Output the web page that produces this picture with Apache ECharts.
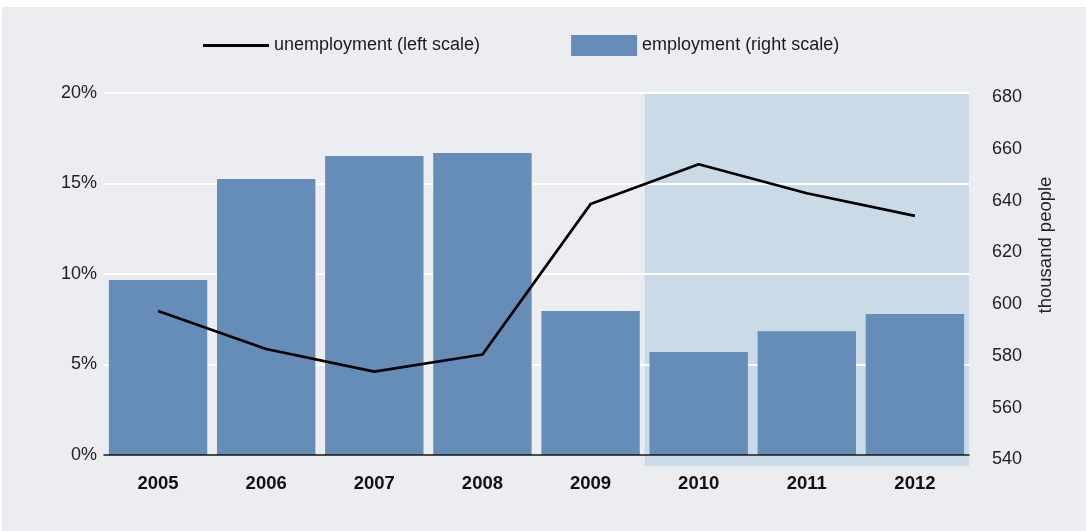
<!DOCTYPE html>
<html>
<head>
<meta charset="utf-8">
<script src="https://cdn.jsdelivr.net/npm/echarts@6/dist/echarts.min.js"></script>
<style>
  html, body { margin: 0; padding: 0; background: #ffffff; }
  #chart { position: absolute; left: 2px; top: 7px; width: 1084px; height: 524px; }
</style>
</head>
<body>
<div id="chart"></div>
<script>
// Years on the category axis
const years = ['2005', '2006', '2007', '2008', '2009', '2010', '2011', '2012'];
// Unemployment rate, percent (left scale)
const unemployment = [7.95, 5.85, 4.6, 5.55, 13.85, 16.05, 14.45, 13.2];
// Employment, thousand people (right scale)
const employment = [609.4, 648.4, 657.3, 658.5, 597.4, 581.5, 589.6, 596.2];
// Tick values of the two scales
const leftTicks = [0, 5, 10, 15, 20];
const rightTicks = [540, 560, 580, 600, 620, 640, 660, 680];
// Years that are highlighted with a shaded band
const shadedYears = ['2010', '2012'];

const FONT = "'Liberation Sans', Arial, Helvetica, sans-serif";
const BAR = '#668cb8';
const SHADE = '#cbdae7';

const chart = echarts.init(document.getElementById('chart'), null, { renderer: 'canvas' });

const option = {
  backgroundColor: '#ecedf0',
  animation: false,
  textStyle: { fontFamily: FONT },
  legend: {
    left: 196,
    top: 23,
    itemWidth: 66,
    itemHeight: 21,
    itemGap: 91,
    textStyle: { fontFamily: FONT, fontSize: 18, color: '#1a1a1a' },
    data: [
      { name: 'unemployment (left scale)', icon: 'path://M0,0 L66,0 L66,3 L0,3 Z', itemStyle: { color: '#000' } },
      { name: 'employment (right scale)', icon: 'rect', itemStyle: { color: BAR } }
    ]
  },
  grid: [
    { left: 102, right: 117, top: 85.7, bottom: 76 },
    { left: 102, right: 117, top: 90.3, bottom: 71.7 }
  ],
  xAxis: [
    {
      type: 'category',
      gridIndex: 0,
      data: years,
      boundaryGap: true,
      axisLine: { show: true, lineStyle: { color: '#111', width: 1.5 } },
      axisTick: { show: false },
      axisLabel: { margin: 19, fontSize: 18.5, fontWeight: 'bold', color: '#111', fontFamily: FONT },
      z: 5
    },
    { type: 'category', gridIndex: 1, data: years, show: false }
  ],
  yAxis: [
    {
      type: 'value',
      gridIndex: 0,
      position: 'left',
      min: leftTicks[0],
      max: leftTicks[leftTicks.length - 1],
      interval: 5,
      axisLine: { show: false },
      axisTick: { show: false },
      axisLabel: { formatter: '{value}%', fontSize: 18, color: '#222', margin: 7, fontFamily: FONT },
      splitLine: { show: true, lineStyle: { color: '#ffffff', width: 2 } }
    },
    {
      // scale used by the bars, same plot area as the percentage scale
      type: 'value',
      gridIndex: 0,
      position: 'right',
      min: 541.7,
      max: 681.8,
      show: false,
      splitLine: { show: false }
    },
    {
      // printed right-hand scale
      type: 'value',
      gridIndex: 1,
      position: 'right',
      min: rightTicks[0],
      max: rightTicks[rightTicks.length - 1],
      interval: 20,
      axisLine: { show: false },
      axisTick: { show: false },
      splitLine: { show: false },
      axisLabel: { fontSize: 18, color: '#222', margin: 23, fontFamily: FONT }
    }
  ],
  series: [
    {
      name: 'employment (right scale)',
      type: 'bar',
      xAxisIndex: 0,
      yAxisIndex: 1,
      data: employment,
      barCategoryGap: '9%',
      itemStyle: { color: BAR },
      z: 2
    },
    {
      name: 'unemployment (left scale)',
      type: 'line',
      xAxisIndex: 0,
      yAxisIndex: 0,
      data: unemployment,
      showSymbol: false,
      symbol: 'none',
      lineStyle: { color: '#000', width: 2.7 },
      itemStyle: { color: '#000' },
      z: 6
    }
  ]
};

chart.setOption(option);

// Shaded band behind the highlighted years, spanning whole category slots
const c0 = chart.convertToPixel({ xAxisIndex: 0 }, shadedYears[0]);
const c1 = chart.convertToPixel({ xAxisIndex: 0 }, shadedYears[1]);
const band = chart.convertToPixel({ xAxisIndex: 0 }, years[1]) - chart.convertToPixel({ xAxisIndex: 0 }, years[0]);
const yTop = chart.convertToPixel({ yAxisIndex: 0 }, leftTicks[leftTicks.length - 1]) + 1;
const yBase = chart.convertToPixel({ yAxisIndex: 0 }, leftTicks[0]);

chart.setOption({
  graphic: [
    {
      type: 'rect',
      z: -1,
      silent: true,
      shape: { x: c0 - band / 2, y: yTop, width: (c1 - c0) + band, height: yBase - yTop + 11 },
      style: { fill: SHADE }
    },
    {
      type: 'text',
      z: 10,
      x: 1044,
      y: 238,
      rotation: Math.PI / 2,
      style: {
        text: 'thousand people',
        fontSize: 18.5,
        fontFamily: FONT,
        fill: '#222',
        align: 'center',
        verticalAlign: 'middle'
      }
    }
  ]
});
</script>
</body>
</html>
